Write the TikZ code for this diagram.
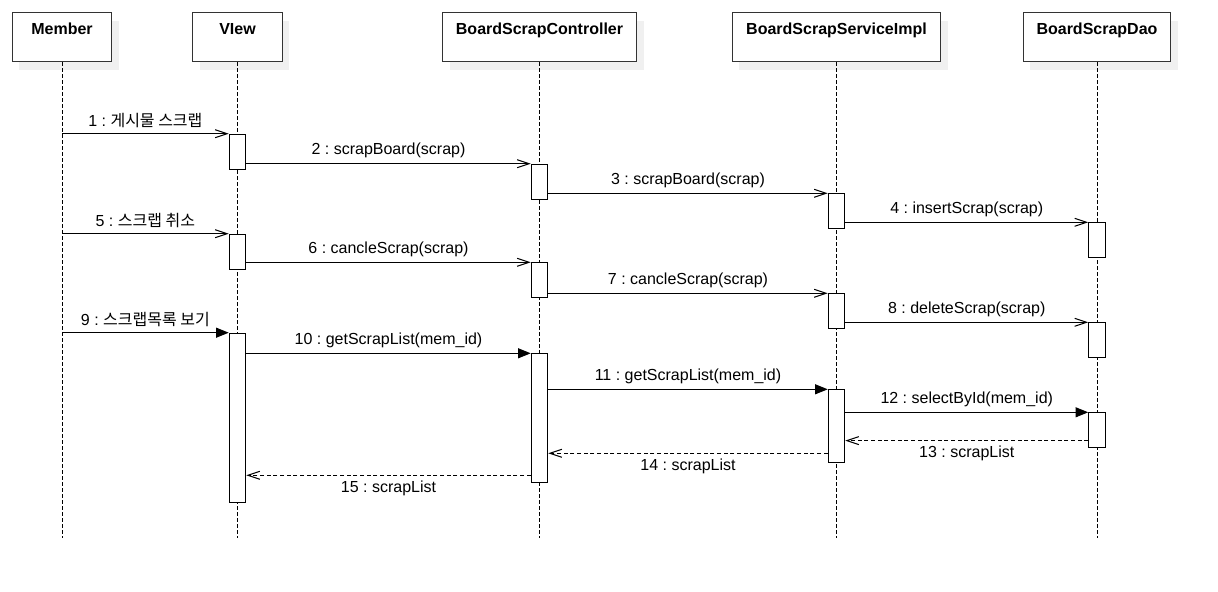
\documentclass[tikz,border=0pt]{standalone}
\usepackage{fontspec}
\setmainfont{Liberation Sans}
\newfontfamily\kr{Noto Sans CJK KR}
\usetikzlibrary{arrows.meta,shadows}
\frenchspacing

\tikzset{
  head/.style={draw=black!80, line width=0.75pt, fill=white, anchor=north,
    inner sep=0pt, text height=16pt, text depth=20.75pt,
    font=\fontsize{12}{14}\selectfont\bfseries,
    drop shadow={shadow xshift=5.25pt, shadow yshift=-6pt, fill=black!6, opacity=1}},
  life/.style={line width=0.75pt, dash pattern=on 2.5pt off 2pt},
  bar/.style={draw, line width=0.75pt, fill=white, anchor=north,
    minimum width=12.4pt, inner sep=0pt},
  call/.style={line width=0.75pt, -{Straight Barb[length=9pt,width=6pt]}},
  sync/.style={line width=0.75pt, -{Triangle[length=9.5pt,width=7.5pt]}},
  ret/.style={call, dash pattern=on 3pt off 2pt},
  msg/.style={midway, font=\fontsize{12}{14}\selectfont, inner sep=0pt}
}

\begin{document}
\begin{tikzpicture}[x=0.75pt,y=-0.75pt]
\useasboundingbox (0,0) rectangle (1218,592);

\node[head, minimum width=74.6pt] (member) at (62,12.3) {Member};
\node[head, minimum width=67.1pt] (view) at (237.5,12.3) {VIew};
\node[head, minimum width=145.5pt] (ctrl) at (539.5,12.3) {BoardScrapController};
\node[head, minimum width=156.4pt] (service) at (836.5,12.3) {BoardScrapServiceImpl};
\node[head, minimum width=110.6pt] (dao) at (1097,12.3) {BoardScrapDao};

\coordinate (end) at (0,538.3);
\foreach \n in {member,view,ctrl,service,dao}
  \draw[life] (\n.south) -- (\n.south |- end);

\foreach \b/\x/\t/\h in {v1/237.5/133.7/26.25, v2/237.5/233.7/26.25, v3/237.5/332.7/127,
    c1/539.5/163.7/26.25, c2/539.5/262.3/26.25, c3/539.5/353.3/96.75,
    s1/836.5/193.3/26.25, s2/836.5/293.3/26.25, s3/836.5/389.3/54.75,
    d1/1097/222.3/26.25, d2/1097/322.3/26.25, d3/1097/412.3/26}
  \node[bar, minimum height=\h pt] (\b) at (\x,\t) {};

\draw[call] (v1.north west -| member) -- node[msg, yshift=10pt] {1 : {\kr 게시물 스크랩}} (v1.north west);
\draw[call] (v1.east |- c1.north) -- node[msg, yshift=10pt] {2 : scrapBoard(scrap)} (c1.north west);
\draw[call] (c1.east |- s1.north) -- node[msg, yshift=10pt] {3 : scrapBoard(scrap)} (s1.north west);
\draw[call] (s1.east |- d1.north) -- node[msg, yshift=10pt] {4 : insertScrap(scrap)} (d1.north west);

\draw[call] (v2.north west -| member) -- node[msg, yshift=10pt] {5 : {\kr 스크랩 취소}} (v2.north west);
\draw[call] (v2.east |- c2.north) -- node[msg, yshift=10pt] {6 : cancleScrap(scrap)} (c2.north west);
\draw[call] (c2.east |- s2.north) -- node[msg, yshift=10pt] {7 : cancleScrap(scrap)} (s2.north west);
\draw[call] (s2.east |- d2.north) -- node[msg, yshift=10pt] {8 : deleteScrap(scrap)} (d2.north west);

\draw[sync] (v3.north west -| member) -- node[msg, yshift=10pt] {9 : {\kr 스크랩목록 보기}} (v3.north west);
\draw[sync] (v3.east |- c3.north) -- node[msg, yshift=10pt] {10 : getScrapList(mem\_id)} (c3.north west);
\draw[sync] (c3.east |- s3.north) -- node[msg, yshift=10pt] {11 : getScrapList(mem\_id)} (s3.north west);
\draw[sync] (s3.east |- d3.north) -- node[msg, yshift=10pt] {12 : selectById(mem\_id)} (d3.north west);

\coordinate (r13) at ([yshift=5.5pt]d3.south west);
\coordinate (r14) at ([yshift=7.5pt]s3.south west);
\coordinate (r15) at ([yshift=6pt]c3.south west);
\draw[ret] (r13) -- node[msg, yshift=-9.5pt] {13 : scrapList} (r13 -| s3.east);
\draw[ret] (r14) -- node[msg, yshift=-9.5pt] {14 : scrapList} (r14 -| c3.east);
\draw[ret] (r15) -- node[msg, yshift=-9.5pt] {15 : scrapList} (r15 -| v3.east);

\end{tikzpicture}
\end{document}
